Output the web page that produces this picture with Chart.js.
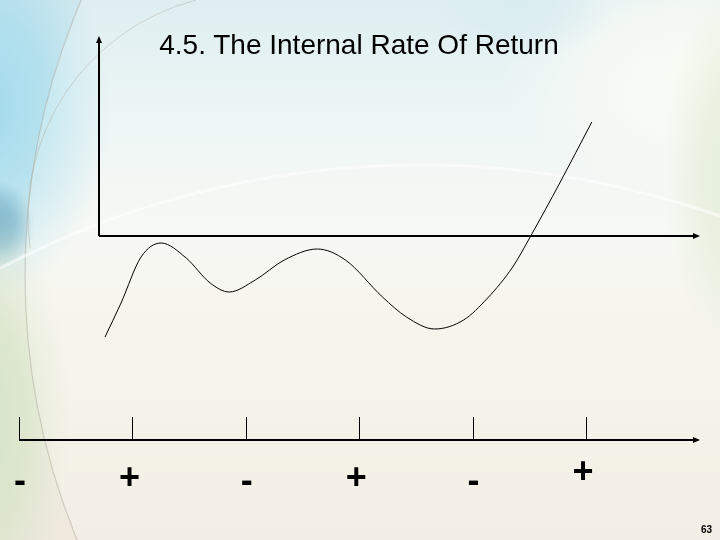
<!DOCTYPE html>
<html>
<head>
<meta charset="utf-8">
<script src="https://cdn.jsdelivr.net/npm/chart.js@4.4.1/dist/chart.umd.min.js"></script>
<style>
  html, body { margin: 0; padding: 0; }
  body { width: 720px; height: 540px; overflow: hidden; position: relative; background: #f3f3ec; }
  #wrap { position: absolute; left: 0; top: 0; width: 720px; height: 540px; }
  #title {
    position: absolute; left: 0; width: 720px; top: 29px; text-align: center;
    font-family: "Liberation Sans", Arial, sans-serif; font-size: 28px; color: #000;
    line-height: 32px; text-indent: -2px;
  }
  #page {
    position: absolute; right: 8px; top: 524px;
    font-family: "Liberation Sans", Arial, sans-serif; font-size: 10px; font-weight: bold; color: #000;
  }
</style>
</head>
<body>
<div id="wrap"><canvas id="c" width="720" height="540"></canvas></div>
<div id="title">4.5. The Internal Rate Of Return</div>
<div id="page">63</div>
<script>
// Discount rate (%) and NPV (arbitrary units)
const rates = [0.6, 2.2, 4.2, 6.2, 8.7, 11.1, 13.0, 15.6, 18.5, 21.8, 24.6, 28.3, 30.7, 33.5, 36.4, 38.8, 41.3, 43.1, 46.0, 49.2];
const npv   = [-101, -67, -21, -7, -22, -47, -56, -44, -24, -13, -24, -61, -81, -93, -84, -62, -31, 0, 53, 114];
// Cash-flow timeline
const periods = [0, 1, 2, 3, 4, 5];
const signs   = ['-', '+', '-', '+', '-', '+'];

const points = rates.map((r, i) => ({ x: r, y: npv[i] }));

function arrow(ctx, x, y, dir) {
  ctx.beginPath();
  if (dir === 'up') {
    ctx.moveTo(x, y); ctx.lineTo(x - 3, y + 7); ctx.lineTo(x + 3, y + 7);
  } else {
    ctx.moveTo(x, y); ctx.lineTo(x - 7, y - 3); ctx.lineTo(x - 7, y + 3);
  }
  ctx.closePath(); ctx.fill();
}

function blob(ctx, cx, cy, rx, ry, rgb, a) {
  ctx.save();
  ctx.translate(cx, cy);
  ctx.scale(rx, ry);
  const g = ctx.createRadialGradient(0, 0, 0, 0, 0, 1);
  g.addColorStop(0, 'rgba(' + rgb + ',' + a + ')');
  g.addColorStop(0.5, 'rgba(' + rgb + ',' + (a * 0.7) + ')');
  g.addColorStop(1, 'rgba(' + rgb + ',0)');
  ctx.fillStyle = g;
  ctx.beginPath(); ctx.arc(0, 0, 1, 0, Math.PI * 2); ctx.fill();
  ctx.restore();
}

const background = {
  id: 'background',
  beforeDraw(chart) {
    const ctx = chart.ctx;
    const W = chart.width, H = chart.height;
    ctx.save();
    let g = ctx.createLinearGradient(0, 0, 0, H);
    g.addColorStop(0, '#d4e9ee');
    g.addColorStop(0.2, '#e6f2f3');
    g.addColorStop(0.42, '#f4f7f2');
    g.addColorStop(0.62, '#f3f1e7');
    g.addColorStop(1, '#efe9de');
    ctx.fillStyle = g; ctx.fillRect(0, 0, W, H);
    blob(ctx, 700, 70, 200, 130, '250,251,243', 0.95);
    blob(ctx, 735, 170, 70, 190, '218,230,202', 0.85);
    blob(ctx, 520, 10, 90, 50, '200,228,236', 0.6);
    blob(ctx, -10, 110, 120, 190, '160,218,236', 0.95);
    blob(ctx, -5, 225, 40, 45, '105,165,190', 0.75);
    blob(ctx, -15, 420, 85, 210, '212,228,198', 0.95);
    // big light circle
    ctx.beginPath(); ctx.ellipse(725, 275, 700, 700, 0, 0, Math.PI * 2);
    ctx.fillStyle = 'rgba(255,255,252,0.25)'; ctx.fill();
    ctx.lineWidth = 1.2; ctx.strokeStyle = 'rgba(175,172,160,0.5)'; ctx.stroke();
    // second arc
    ctx.beginPath(); ctx.arc(252, 217, 224, 3.0, 4.46);
    ctx.lineWidth = 1; ctx.strokeStyle = 'rgba(180,178,165,0.5)'; ctx.stroke();
    // soft white band
    ctx.beginPath(); ctx.ellipse(420, 1060, 900, 895, 0, Math.PI * 1.2, Math.PI * 1.8);
    ctx.lineWidth = 3; ctx.strokeStyle = 'rgba(255,255,255,0.55)'; ctx.stroke();
    ctx.restore();
  }
};

const axesPlugin = {
  id: 'axesPlugin',
  afterDatasetsDraw(chart) {
    const ctx = chart.ctx;
    const xs = chart.scales.x, ys = chart.scales.y, ts = chart.scales.t;
    const x0 = xs.getPixelForValue(0);
    const y0 = ys.getPixelForValue(0);
    ctx.save();
    ctx.strokeStyle = '#000'; ctx.fillStyle = '#000';
    ctx.lineWidth = 2;
    ctx.beginPath();
    ctx.moveTo(x0, y0); ctx.lineTo(x0, ys.top + 5);
    ctx.moveTo(x0, y0); ctx.lineTo(xs.right - 5, y0);
    ctx.stroke();
    arrow(ctx, x0, ys.top, 'up');
    arrow(ctx, xs.right, y0, 'right');
    const ty = 440;
    const tx0 = ts.getPixelForValue(periods[0]);
    ctx.beginPath();
    ctx.moveTo(tx0, ty); ctx.lineTo(ts.right - 5, ty);
    ctx.stroke();
    arrow(ctx, ts.right, ty, 'right');
    ctx.lineWidth = 1;
    periods.forEach((p) => {
      const px = Math.round(ts.getPixelForValue(p)) + 0.5;
      ctx.beginPath(); ctx.moveTo(px, ty); ctx.lineTo(px, ty - 23); ctx.stroke();
    });
    ctx.font = 'bold 36px "Liberation Sans", Arial, sans-serif';
    ctx.textAlign = 'center'; ctx.textBaseline = 'middle';
    signs.forEach((s, i) => {
      const px = ts.getPixelForValue(periods[i]);
      const last = i === signs.length - 1;
      ctx.fillText(s, px + (s === '-' ? 1 : -3), s === '-' ? 482 : (last ? 473 : 479));
    });
    ctx.restore();
  }
};

new Chart(document.getElementById('c'), {
  type: 'line',
  data: {
    datasets: [{
      data: points,
      borderColor: '#000',
      borderWidth: 1,
      pointRadius: 0,
      fill: false,
      cubicInterpolationMode: 'monotone'
    }]
  },
  options: {
    responsive: false,
    animation: false,
    layout: { padding: { left: 99, right: 20, top: 36, bottom: 200 } },
    plugins: { legend: { display: false }, tooltip: { enabled: false }, title: { display: false } },
    scales: {
      x: { type: 'linear', min: 0, max: 60, display: false },
      y: { type: 'linear', min: -104, max: 200, display: false },
      t: { type: 'linear', axis: 'x', min: 0.7055, max: 6.005, display: false }
    },
    clip: false
  },
  plugins: [background, axesPlugin]
});
</script>
</body>
</html>
